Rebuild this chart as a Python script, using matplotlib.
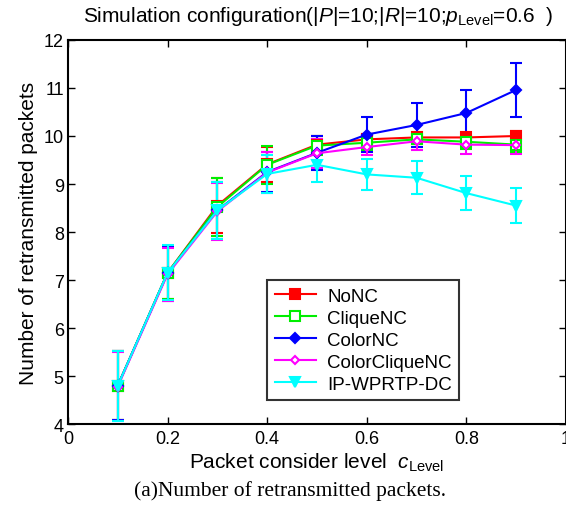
import matplotlib
matplotlib.use("Agg")
import matplotlib.pyplot as plt
from matplotlib.lines import Line2D

plt.rcParams['font.family'] = ['Liberation Sans', 'DejaVu Sans']
plt.rcParams['mathtext.fontset'] = 'custom'
plt.rcParams['mathtext.rm'] = 'Liberation Sans'
plt.rcParams['mathtext.it'] = 'Liberation Sans:italic'

x = [0.1, 0.2, 0.3, 0.4, 0.5, 0.6, 0.7, 0.8, 0.9]
series_names = ["NoNC", "CliqueNC", "ColorNC", "ColorCliqueNC", "IP-WPRTP-DC"]
nonc = [4.80, 7.15, 8.55, 9.41, 9.82, 9.93, 9.97, 9.97, 10.00]
nonc_err = [0.72, 0.55, 0.58, 0.37, 0.18, 0.12, 0.10, 0.10, 0.10]
clique = [4.80, 7.15, 8.52, 9.40, 9.80, 9.86, 9.93, 9.88, 9.82]
clique_err = [0.72, 0.55, 0.60, 0.39, 0.20, 0.15, 0.10, 0.15, 0.15]
color = [4.80, 7.14, 8.45, 9.25, 9.65, 10.03, 10.23, 10.48, 10.96]
color_err = [0.72, 0.57, 0.60, 0.42, 0.35, 0.36, 0.46, 0.47, 0.57]
colorclique = [4.78, 7.12, 8.43, 9.24, 9.64, 9.77, 9.89, 9.82, 9.81]
colorclique_err = [0.72, 0.55, 0.60, 0.43, 0.30, 0.17, 0.18, 0.20, 0.18]
ipw = [4.80, 7.15, 8.45, 9.21, 9.40, 9.20, 9.13, 8.81, 8.55]
ipw_err = [0.73, 0.57, 0.60, 0.40, 0.36, 0.32, 0.34, 0.36, 0.37]

xticks = [0, 0.2, 0.4, 0.6, 0.8, 1]
xticklabels = ["0", "0.2", "0.4", "0.6", "0.8", "1"]
yticks = [4, 5, 6, 7, 8, 9, 10, 11, 12]

styles = [
    (nonc, nonc_err, '#ff0000', 's', '#ff0000', 6.5),
    (clique, clique_err, '#00ee00', 's', 'white', 6.5),
    (color, color_err, '#0000ff', 'D', '#0000ff', 5.5),
    (colorclique, colorclique_err, '#ff00ff', 'D', 'white', 4.5),
    (ipw, ipw_err, '#00ffff', 'v', '#00ffff', 7),
]

fig = plt.figure(figsize=(5.66, 5.06), dpi=100)
ax = fig.add_axes([0.120, 0.160, 0.880, 0.759])

handles = []
for (vals, errs, c, m, fc, ms), name in zip(styles, series_names):
    ax.errorbar(x, vals, yerr=errs, color=c, marker=m, markerfacecolor=fc,
                markeredgecolor=c, markersize=ms, markeredgewidth=1.5,
                lw=1.5, elinewidth=1.5, capsize=4, capthick=1.5)
    handles.append(Line2D([], [], color=c, marker=m, markerfacecolor=fc,
                          markeredgecolor=c, markersize=ms, markeredgewidth=1.5,
                          lw=1.5, label=name))

ax.set_xlim(0, 1)
ax.set_ylim(4, 12)
ax.set_xticks(xticks)
ax.set_xticklabels(xticklabels)
ax.set_yticks(yticks)
ax.tick_params(direction='in', top=True, right=True, labelsize=13, length=5, width=1)
ax.tick_params(axis='x', pad=4)
ax.tick_params(axis='y', pad=3)
for s in ax.spines.values():
    s.set_linewidth(1.5)

ax.set_ylabel("Number of retransmitted packets", fontsize=15, labelpad=4)
ax.set_xlabel(r"Packet consider level  $c_{\rm Level}$", fontsize=15, labelpad=3)
fig.text(0.562, 0.968, r"Simulation configuration(|$P$|=10;|$R$|=10;$p_{\rm Level}$=0.6  )",
         ha='center', va='center', fontsize=15)
fig.text(0.512, 0.030, "(a)Number of retransmitted packets.", ha='center', va='center',
         fontsize=15.5, family=['Liberation Serif', 'DejaVu Serif'])

leg = ax.legend(handles=handles, loc='upper left', bbox_to_anchor=(0.40, 0.375), fontsize=13.5,
                frameon=True, fancybox=False, edgecolor='black', handlelength=2.2,
                borderpad=0.4, labelspacing=0.26, handletextpad=0.6, borderaxespad=0)
leg.get_frame().set_linewidth(1.5)

fig.savefig("out.png", dpi=100)
